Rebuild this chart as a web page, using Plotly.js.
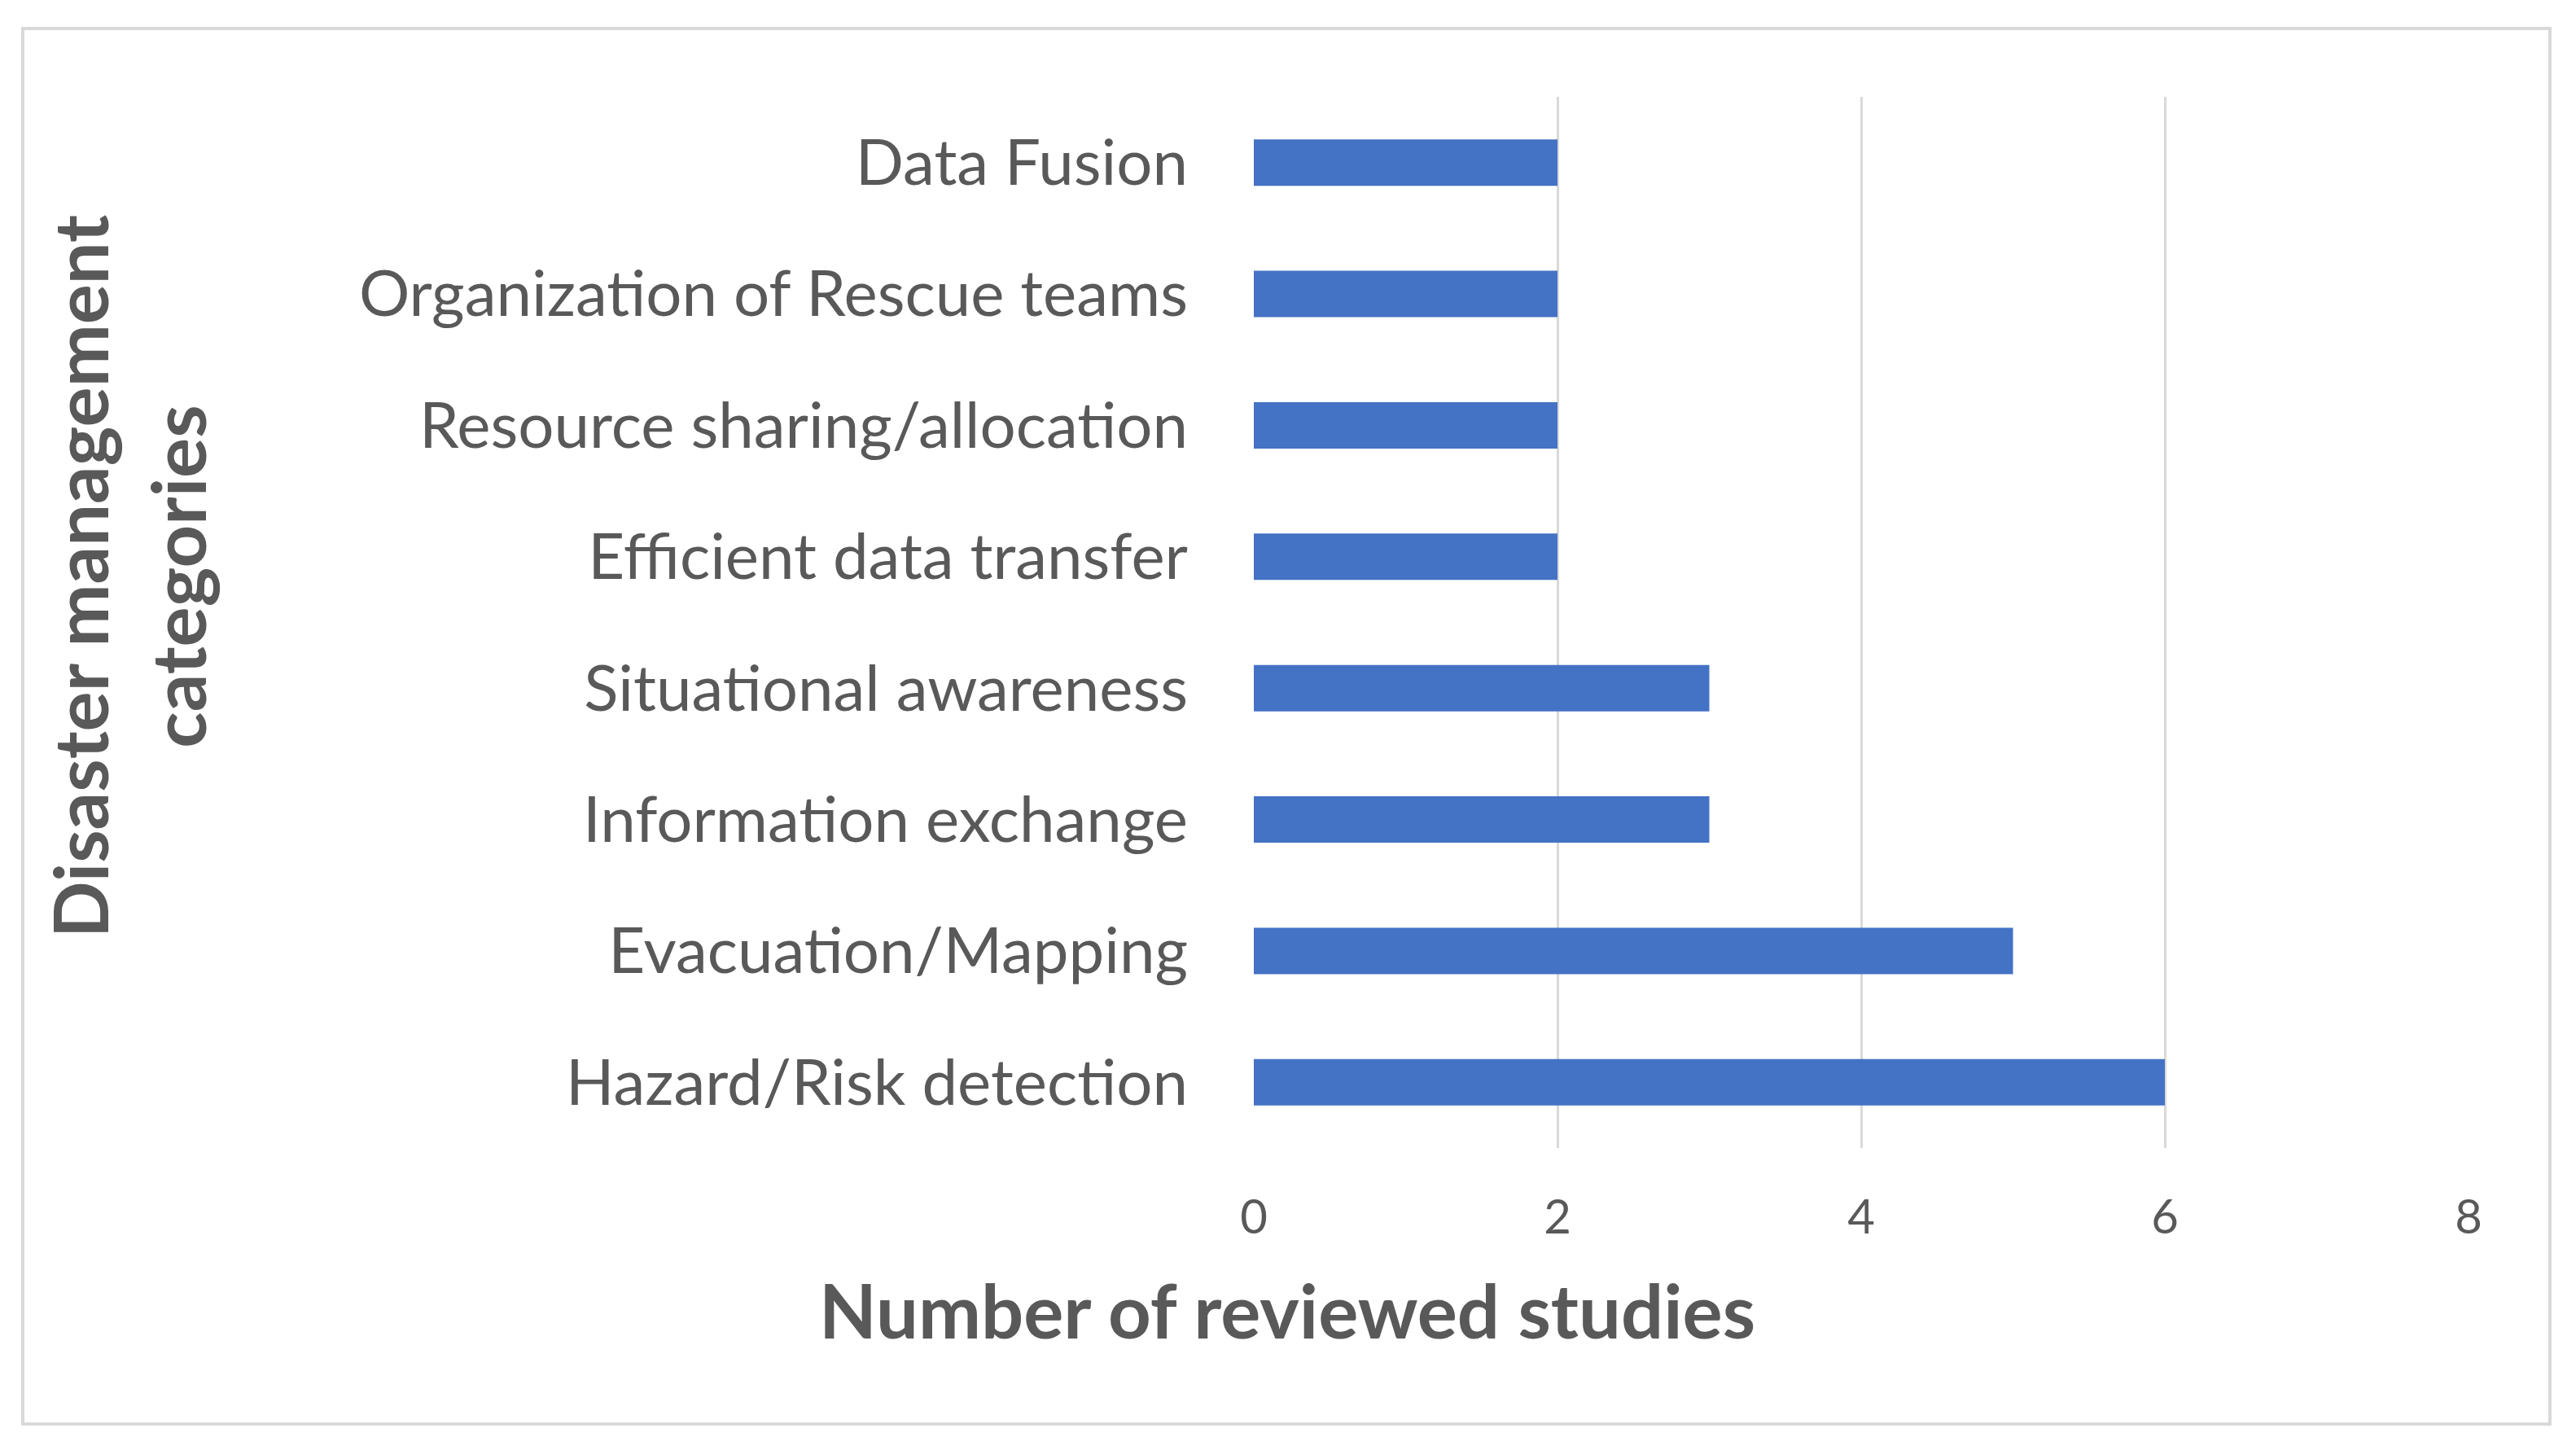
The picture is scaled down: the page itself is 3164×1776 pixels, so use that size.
<!DOCTYPE html>
<html>
<head>
<meta charset="utf-8">
<script src="https://cdn.plot.ly/plotly-3.0.1.min.js"></script>
<style>
	html, body { margin: 0; padding: 0; background: #fff; }
	#chart { width: 3164px; height: 1776px; }
	#frame {
		position: absolute; left: 26px; top: 33px;
		width: 3100px; height: 1710px;
		border: 4px solid #D9D9D9; pointer-events: none;
	}
</style>
</head>
<body>
<div id="chart"></div>
<div id="frame"></div>
<script>
	// categories listed bottom -> top (plotly draws the first category at the bottom)
	const categories = [
		'Hazard/Risk detection',
		'Evacuation/Mapping',
		'Information exchange',
		'Situational awareness',
		'Efficient data transfer',
		'Resource sharing/allocation',
		'Organization of Rescue teams',
		'Data Fusion'
	];
	const studies = [6, 5, 3, 3, 2, 2, 2, 2];
	const xTicks = [0, 2, 4, 6, 8];

	const textGrey = '#595959';
	const gridGrey = '#D9D9D9';
	const fontFam = 'Lato, "Open Sans", sans-serif';

	const data = [{
		type: 'bar',
		orientation: 'h',
		x: studies,
		y: categories,
		marker: { color: '#4472C4', line: { width: 0 } },
		hoverinfo: 'x+y'
	}];

	const layout = {
		width: 3164,
		height: 1776,
		margin: { l: 1540, r: 132, t: 119, b: 366, pad: 0 },
		paper_bgcolor: '#fff',
		plot_bgcolor: '#fff',
		showlegend: false,
		bargap: 0.647,
		font: { family: fontFam, color: textGrey },
		xaxis: {
			range: [0, 8],
			tickvals: xTicks,
			showgrid: true,
			gridcolor: gridGrey,
			gridwidth: 3,
			zeroline: false,
			showline: false,
			ticks: '',
			ticklabelstandoff: 46,
			tickfont: { size: 58, color: textGrey, family: fontFam }
		},
		yaxis: {
			type: 'category',
			showgrid: false,
			zeroline: false,
			showline: false,
			ticks: '',
			ticklabelstandoff: 80,
			tickfont: { size: 78, color: textGrey, family: fontFam }
		},
		annotations: [
			{
				// x axis title, centred on the whole figure like the original
				text: '<b>Number of reviewed studies</b>',
				xref: 'paper', yref: 'paper',
				x: 0.0275, y: -0.1534,
				xanchor: 'center', yanchor: 'middle',
				showarrow: false,
				font: { size: 92, color: textGrey, family: fontFam }
			},
			{
				text: '<b>Disaster management<br>categories</b>',
				xref: 'paper', yref: 'paper',
				x: -0.926, y: 0.5438,
				xanchor: 'center', yanchor: 'middle',
				textangle: -90,
				showarrow: false,
				font: { size: 92, color: textGrey, family: fontFam }
			}
		]
	};

	Plotly.newPlot('chart', data, layout, { displayModeBar: false, staticPlot: true });
</script>
</body>
</html>
